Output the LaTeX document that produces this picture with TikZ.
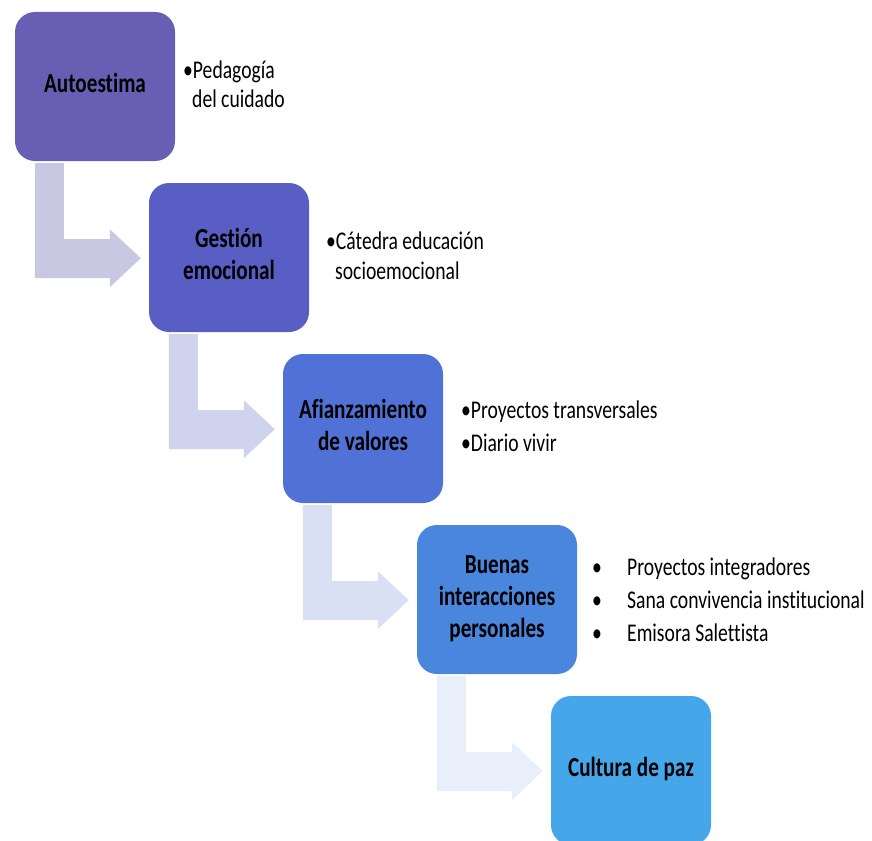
\documentclass[tikz,border=0pt]{standalone}
\usepackage{fontspec}
\setmainfont{Carlito}[Ligatures=NoCommon]
\usepackage{graphicx}
\usetikzlibrary{calc}
\definecolor{cA}{RGB}{104,94,180}
\definecolor{cB}{RGB}{88,94,196}
\definecolor{cC}{RGB}{80,114,214}
\definecolor{cD}{RGB}{74,134,222}
\definecolor{cE}{RGB}{70,166,234}
\definecolor{aA}{RGB}{200,200,226}
\definecolor{aB}{RGB}{208,211,238}
\definecolor{aC}{RGB}{217,224,244}
\definecolor{aD}{RGB}{232,238,250}
\newcommand{\boxtxt}[1]{\scalebox{0.77}[1]{\fontsize{27.5}{32}\selectfont\bfseries\begin{tabular}{@{}c@{}}#1\end{tabular}}}
\newcommand{\bultxt}[1]{\scalebox{0.77}[1]{\fontsize{25.5}{29}\selectfont #1}}
\newcommand{\bentarrow}[2]{%
  \fill[#2] ($(#1.south west)+(20,2)$) -- ++(29,0) -- ++(0,76) -- ++(46,0) -- ++(0,-10)
    -- ++(31,29) -- ++(-31,29) -- ++(0,-9) -- ++(-75,0) -- cycle;}
\begin{document}
\begin{tikzpicture}[x=1pt,y=-1pt,
  stepbox/.style={rounded corners=20pt, minimum width=160pt, minimum height=149pt, inner sep=0pt, text=black},
  bul/.style={anchor=base west, inner sep=0pt, text=black}]
\useasboundingbox (0,0) rectangle (872,840);
\clip (0,0) rectangle (872,840);
\node[stepbox, fill=cA] (b1) at (95,86.5) {\boxtxt{Autoestima}};
\node[stepbox, fill=cB] (b2) at (229,257.5) {\boxtxt{Gestión\\emocional}};
\node[stepbox, fill=cC] (b3) at (363,428.5) {\boxtxt{Afianzamiento\\de valores}};
\node[stepbox, fill=cD] (b4) at (497,599.5) {\boxtxt{Buenas\\interacciones\\personales}};
\node[stepbox, fill=cE] (b5) at (631,770.5) {\boxtxt{Cultura de paz}};
\bentarrow{b1}{aA}
\bentarrow{b2}{aB}
\bentarrow{b3}{aC}
\bentarrow{b4}{aD}
\node[bul] (t1a) at (183,79) {\bultxt{•Pedagogía}};
\node[bul] (t1b) at (192,107) {\bultxt{del cuidado}};
\node[bul] (t2a) at (326,249) {\bultxt{•Cátedra educación}};
\node[bul] (t2b) at (335,279) {\bultxt{socioemocional}};
\node[bul] (t3a) at (461,418) {\bultxt{•Proyectos transversales}};
\node[bul] (t3b) at (461,451) {\bultxt{•Diario vivir}};
\node[bul] (d4a) at (592,575) {\bultxt{•}};
\node[bul] (d4b) at (592,608) {\bultxt{•}};
\node[bul] (d4c) at (592,641) {\bultxt{•}};
\node[bul] (t4a) at (627,575) {\bultxt{Proyectos integradores}};
\node[bul] (t4b) at (627,608) {\bultxt{Sana convivencia institucional}};
\node[bul] (t4c) at (627,641) {\bultxt{Emisora Salettista}};
\end{tikzpicture}
\end{document}
